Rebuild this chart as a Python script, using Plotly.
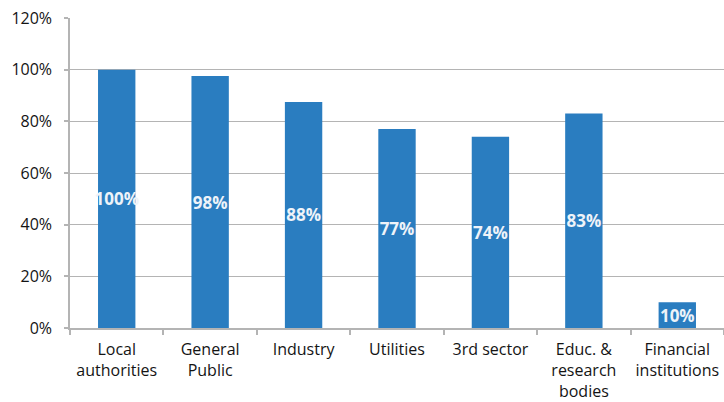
import plotly.graph_objects as go

categories = ["Local<br>authorities", "General<br>Public", "Industry", "Utilities",
              "3rd sector", "Educ. &<br>research<br>bodies", "Financial<br>institutions"]
values = [100, 97.5, 87.5, 77, 74, 83, 10]
labels = ["100%", "98%", "88%", "77%", "74%", "83%", "10%"]
y_ticks = [0, 20, 40, 60, 80, 100, 120]
y_tick_text = ["0%", "20%", "40%", "60%", "80%", "100%", "120%"]

BAR = "#2a7dc0"
GRID = "#b4b4b4"
FONT = "Open Sans"
TXT = "#141414"

fig = go.Figure(go.Bar(
    x=categories, y=values, text=labels,
    textposition="inside", insidetextanchor="middle", constraintext="none",
    textangle=0,
    textfont=dict(family=FONT, size=17, color="#eef3f9", weight="bold"),
    marker=dict(color=BAR, line=dict(width=0)),
    hoverinfo="skip",
))

fig.update_layout(
    width=724, height=402,
    margin=dict(l=70, r=0, t=18, b=74),
    paper_bgcolor="white", plot_bgcolor="white",
    bargap=0.6, showlegend=False,
    font=dict(family=FONT, size=16, color=TXT),
)
fig.update_xaxes(
    automargin=False,
    tickson="boundaries", ticks="outside", ticklen=5, tickcolor=GRID, tickwidth=1.5,
    showline=True, linecolor=GRID, linewidth=1.5, showgrid=False,
    tickfont=dict(family=FONT, size=16, color=TXT), tickangle=0,
    ticklabelstandoff=6,
)
fig.update_yaxes(
    automargin=False,
    range=[0, 120], tickvals=y_ticks, ticktext=y_tick_text,
    ticks="outside", ticklen=4, tickcolor=GRID, tickwidth=1.5,
    showline=True, linecolor=GRID, linewidth=1.5,
    showgrid=True, gridcolor=GRID, gridwidth=1.2, zeroline=False,
    tickfont=dict(family=FONT, size=16, color=TXT),
    ticklabelstandoff=9,
)

fig.write_html("out.html", config={"displayModeBar": False},
               post_script="document.body.style.margin='0px';document.body.style.overflow='hidden';")
